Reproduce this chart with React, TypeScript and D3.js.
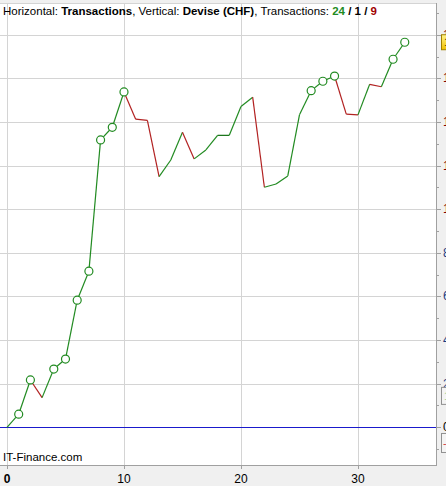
import React from "react";
import * as d3 from "d3";

const transactions = d3.range(0, 35);
const equity = [0, 0.6, 2.17, 1.36, 2.67, 3.13, 5.83, 7.16, 13.18, 13.76, 15.38, 14.13, 14.08, 11.5, 12.26, 13.53, 12.31, 12.72, 13.39, 13.39, 14.71, 15.14, 11.01, 11.16, 11.53, 14.33, 15.44, 15.87, 16.11, 14.36, 14.33, 15.73, 15.62, 16.88, 17.66];
const xTicks = [0, 10, 20, 30];
const yMajor = [0, 2, 4, 6, 8, 10, 12, 14, 16, 18];
const yMinor = [-1, 1, 3, 5, 7, 9, 11, 13, 15, 17, 19];
const avgWin = 1.44;
const avgLoss = -0.72;
const wins = 24, flats = 1, losses = 9;

const W = 446, H = 486;
const FONT = "'Liberation Sans', Arial, sans-serif";

export default function App() {
  const x = d3.scaleLinear().domain([0, 36.67]).range([7, 436]);
  const y = d3.scaleLinear().domain([-1.73, 19.46]).range([465, 3]);
  const plotL = 0, plotR = 436, plotT = 3, plotB = 465;

  const segs = equity.slice(1).map((v, i) => {
    const p = equity[i];
    const color = v < p ? "#b22222" : v > p ? "#228b22" : "#0f6e0f";
    return { x1: x(i), y1: y(p), x2: x(i + 1), y2: y(v), color };
  });
  let maxSoFar = 0;
  const highs: number[] = [];
  equity.forEach((v, i) => {
    if (i > 0 && v > maxSoFar) highs.push(i);
    maxSoFar = Math.max(maxSoFar, v);
  });
  const last = equity[equity.length - 1];

  return (
    <svg width={W} height={H} style={{ position: "absolute", left: 0, top: 0, display: "block" }} fontFamily={FONT}>
      <defs>
        <linearGradient id="yel" x1="0" y1="0" x2="0" y2="1">
          <stop offset="0" stopColor="#fff38a" />
          <stop offset="1" stopColor="#f0c000" />
        </linearGradient>
        <clipPath id="plot"><rect x={plotL} y={plotT} width={plotR - plotL} height={plotB - plotT} /></clipPath>
      </defs>
      <rect x={0} y={0} width={W} height={H} fill="#f0f0f0" />
      <rect x={plotL} y={plotT} width={plotR - plotL} height={plotB - plotT} fill="#ffffff" />
      {/* top border */}
      <line x1={0} x2={plotR} y1={plotT + 0.5} y2={plotT + 0.5} stroke="#d4d4d4" />
      {/* grid */}
      {xTicks.map(t => (
        <line key={"gx" + t} x1={Math.round(x(t)) + 0.5} x2={Math.round(x(t)) + 0.5} y1={plotT} y2={plotB} stroke="#d4d4d4" />
      ))}
      {yMajor.filter(t => t !== 0).map(t => (
        <line key={"gy" + t} x1={plotL} x2={plotR} y1={Math.round(y(t)) + 0.5} y2={Math.round(y(t)) + 0.5} stroke="#d4d4d4" />
      ))}
      <line x1={plotL} x2={plotR} y1={Math.round(y(0)) + 0.5} y2={Math.round(y(0)) + 0.5} stroke="#1a1acc" />
      {/* equity line */}
      <g clipPath="url(#plot)">
        {segs.map((s, i) => (
          <line key={"s" + i} x1={s.x1} y1={s.y1} x2={s.x2} y2={s.y2} stroke={s.color} strokeWidth={1.2} />
        ))}
        {highs.map(i => (
          <circle key={"c" + i} cx={x(i)} cy={y(equity[i])} r={4} fill="#ffffff" stroke="#228b22" strokeWidth={1.2} />
        ))}
      </g>
      {/* title */}
      <text x={3} y={15} fontSize={11.5} fill="#000">
        <tspan>Horizontal: </tspan>
        <tspan fontWeight="bold">Transactions</tspan>
        <tspan>, Vertical: </tspan>
        <tspan fontWeight="bold">Devise (CHF)</tspan>
        <tspan>, Transactions: </tspan>
        <tspan fontWeight="bold" fill="#228b22">{wins}</tspan>
        <tspan fontWeight="bold"> / {flats} / </tspan>
        <tspan fontWeight="bold" fill="#a00000">{losses}</tspan>
      </text>
      <text x={3} y={461} fontSize={11.5} fill="#000">IT-Finance.com</text>
      {/* axes frame */}
      <line x1={plotR + 0.5} x2={plotR + 0.5} y1={plotT} y2={plotB + 1} stroke="#a0a0a0" />
      <line x1={plotL} x2={plotR + 1} y1={plotB + 0.5} y2={plotB + 0.5} stroke="#a0a0a0" />
      {xTicks.map(t => (
        <g key={"xt" + t}>
          <line x1={Math.round(x(t)) + 0.5} x2={Math.round(x(t)) + 0.5} y1={plotB} y2={plotB + 4} stroke="#a0a0a0" />
          <text x={x(t)} y={483} fontSize={12} textAnchor="middle" fill="#000" fontWeight={t === 0 ? "bold" : "normal"}>{t}</text>
        </g>
      ))}
      {yMajor.map(t => (
        <g key={"yt" + t}>
          <line x1={plotR} x2={plotR + 5} y1={Math.round(y(t)) + 0.5} y2={Math.round(y(t)) + 0.5} stroke="#a0a0a0" />
          <text x={443} y={y(t) + 4} fontSize={12} fill={t === 0 ? "#000" : t >= 10 ? "#800000" : "#1a3a80"}>{t}</text>
        </g>
      ))}
      {yMinor.map(t => (
        <line key={"ym" + t} x1={plotR} x2={plotR + 3} y1={Math.round(y(t)) + 0.5} y2={Math.round(y(t)) + 0.5} stroke="#a0a0a0" />
      ))}
      {/* value markers */}
      <rect x={441.5} y={y(last) - 7.5} width={30} height={15} fill="url(#yel)" stroke="#a08000" />
      <text x={444} y={y(last) + 4} fontSize={11} fill="#403000">{last.toFixed(2)}</text>
      <rect x={441.5} y={y(avgWin) - 8.5} width={30} height={17} fill="#f4f4f4" stroke="#909090" />
      <text x={444} y={y(avgWin) + 4} fontSize={11} fill="#8fd08f">{avgWin.toFixed(2)}</text>
      <rect x={441.5} y={y(avgLoss) - 9.5} width={30} height={19} fill="#f4f4f4" stroke="#909090" />
      <text x={443} y={y(avgLoss) + 4} fontSize={11} fill="#d04040">{avgLoss.toFixed(2)}</text>
    </svg>
  );
}
